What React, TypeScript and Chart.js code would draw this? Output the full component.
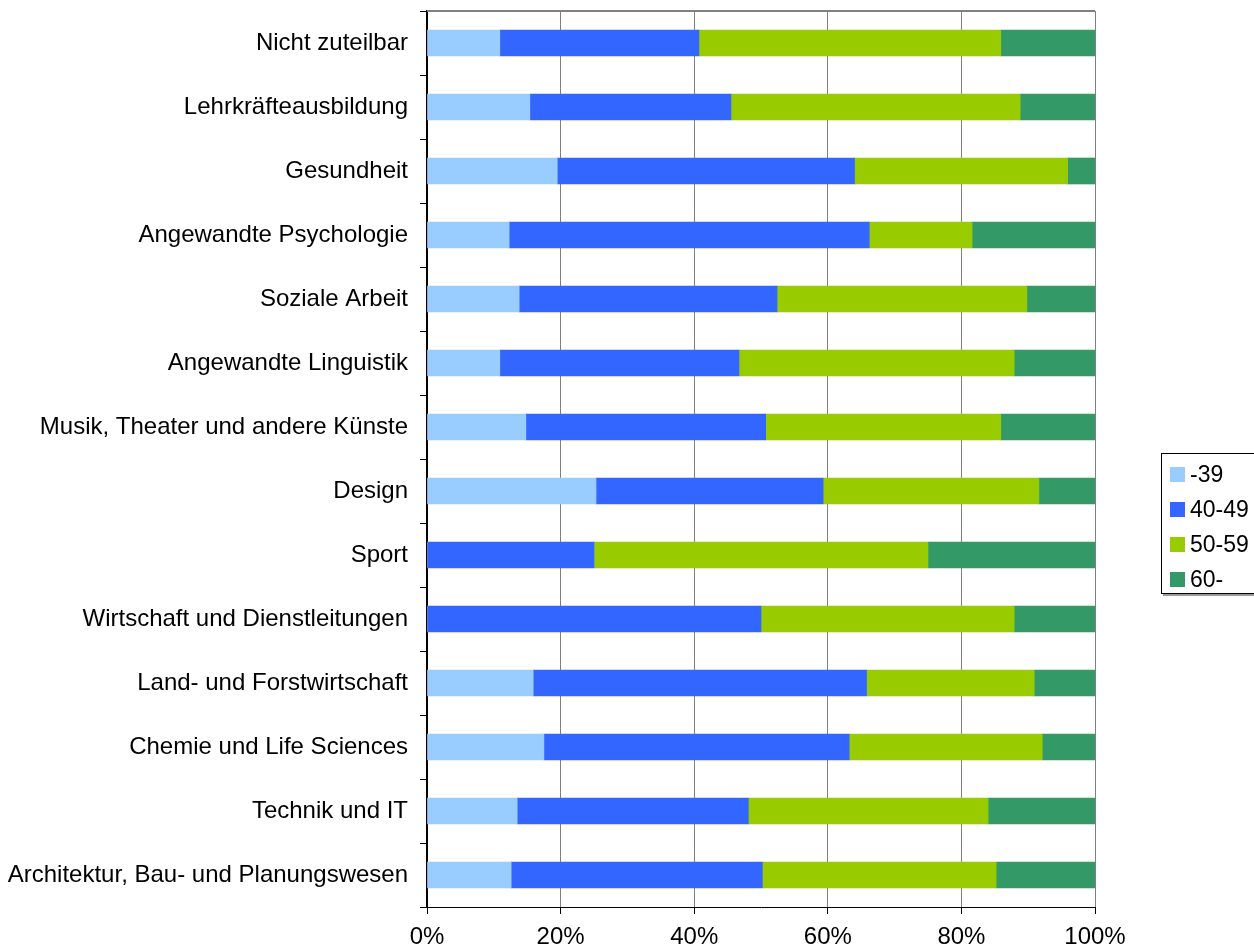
import React, { useEffect, useRef } from "react";
import { Chart, registerables } from "chart.js";

Chart.register(...registerables);

const categories = [
  "Nicht zuteilbar",
  "Lehrkräfteausbildung",
  "Gesundheit",
  "Angewandte Psychologie",
  "Soziale Arbeit",
  "Angewandte Linguistik",
  "Musik, Theater und andere Künste",
  "Design",
  "Sport",
  "Wirtschaft und Dienstleitungen",
  "Land- und Forstwirtschaft",
  "Chemie und Life Sciences",
  "Technik und IT",
  "Architektur, Bau- und Planungswesen",
];

const seriesNames = ["-39", "40-49", "50-59", "60-"];
const seriesColors = ["#99CCFF", "#3366FF", "#99CC00", "#339966"];

const under39 = [10.9, 15.4, 19.5, 12.3, 13.8, 10.9, 14.8, 25.3, 0, 0, 15.9, 17.5, 13.5, 12.6];
const age40to49 = [29.8, 30.1, 44.5, 53.9, 38.6, 35.8, 35.9, 34.0, 25, 50, 49.9, 45.7, 34.6, 37.6];
const age50to59 = [45.2, 43.3, 31.9, 15.4, 37.4, 41.2, 35.2, 32.3, 50, 37.9, 25.1, 28.9, 35.9, 35.0];
const over60 = [14.1, 11.2, 4.1, 18.4, 10.2, 12.1, 14.1, 8.4, 25, 12.1, 9.1, 7.9, 16.0, 14.8];

const xTicks = [0, 20, 40, 60, 80, 100];

const seriesValues = [under39, age40to49, age50to59, over60];

const topBorder = {
  id: "topBorder",
  afterDraw(chart: any) {
    const { ctx, chartArea } = chart;
    ctx.save();
    ctx.strokeStyle = "#808080";
    ctx.lineWidth = 2;
    ctx.beginPath();
    ctx.moveTo(chartArea.left, chartArea.top);
    ctx.lineTo(chartArea.right, chartArea.top);
    ctx.stroke();
    ctx.restore();
  },
};

export default function App() {
  const ref = useRef<HTMLCanvasElement>(null);

  useEffect(() => {
    if (!ref.current) return;
    const font = { family: "'Liberation Sans', Arial, sans-serif", size: 24 };
    const chart = new Chart(ref.current, {
      type: "bar",
      data: {
        labels: categories,
        datasets: seriesNames.map((name, i) => ({
          label: name,
          data: seriesValues[i],
          backgroundColor: seriesColors[i],
          borderWidth: 0,
          barThickness: 26,
        })),
      },
      plugins: [topBorder],
      options: {
        indexAxis: "y",
        animation: false,
        responsive: false,
        maintainAspectRatio: false,
        layout: { padding: { left: 0, right: 159, top: 11, bottom: 0 } },
        plugins: {
          legend: { display: false },
          tooltip: { enabled: false },
        },
        scales: {
          x: {
            stacked: true,
            min: 0,
            max: 100,
            afterFit: (s: any) => {
              s.height = 42;
              s.paddingLeft = 0;
              s.paddingRight = 0;
            },
            afterBuildTicks: (s: any) => {
              s.ticks = xTicks.map((v) => ({ value: v }));
            },
            ticks: {
              color: "#000",
              font,
              padding: 9,
              maxRotation: 0,
              callback: (v: any) => v + "%",
            },
            grid: {
              color: "#808080",
              tickColor: "#000",
              tickLength: 7,
              lineWidth: 1,
            },
            border: { color: "#000", width: 1 },
          },
          y: {
            stacked: true,
            afterFit: (s: any) => {
              s.width = 427;
              s.paddingTop = 0;
              s.paddingBottom = 0;
            },
            ticks: {
              color: "#000",
              font,
              padding: 12,
              autoSkip: false,
            },
            grid: {
              drawOnChartArea: false,
              offset: true,
              tickColor: "#000",
              tickLength: 7,
            },
            border: { color: "#000", width: 2 },
          },
        },
      },
    } as any);
    return () => chart.destroy();
  }, []);

  const legendFont = "'Liberation Sans', Arial, sans-serif";

  return (
    <div style={{ position: "fixed", left: 0, top: 0, width: 1254, height: 949, background: "#fff" }}>
      <canvas ref={ref} width={1254} height={949} style={{ position: "absolute", left: 0, top: 0 }} />
      <div
        style={{
          position: "absolute",
          left: 1161,
          top: 453,
          width: 92,
          height: 139,
          border: "1px solid #000",
          boxShadow: "2px 2px 0 #999",
          background: "#fff",
          fontFamily: legendFont,
          fontSize: 23,
          color: "#000",
        }}
      >
        {seriesNames.map((n, i) => (
          <div
            key={n}
            style={{
              position: "absolute",
              left: 8,
              top: 7 + i * 35,
              height: 26,
              display: "flex",
              alignItems: "center",
            }}
          >
            <span style={{ display: "inline-block", width: 15, height: 15, background: seriesColors[i], marginRight: 5 }} />
            <span>{n}</span>
          </div>
        ))}
      </div>
    </div>
  );
}
